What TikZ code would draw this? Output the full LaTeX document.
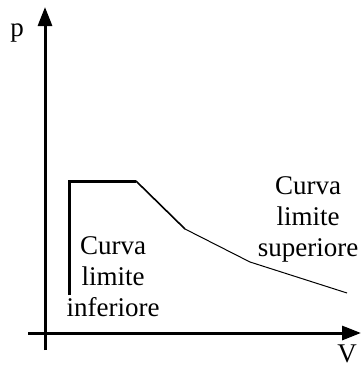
\documentclass[tikz,border=0pt]{standalone}
\usepackage{fontspec}
\setmainfont{Liberation Serif}
\usetikzlibrary{arrows.meta}
\tikzset{
  axis-line/.style={line width=3pt,-{Triangle[length=19pt,width=14pt]}},
  curve-thick/.style={line width=3pt,line join=miter},
  curve-mid/.style={line width=1.6pt},
  curve-thin/.style={line width=1pt,line join=round},
  curve-label/.style={align=center,font=\fontsize{27}{31}\selectfont,inner sep=0pt},
  axis-label/.style={font=\fontsize{27}{30}\selectfont,inner sep=0pt},
}

\begin{document}
\begin{tikzpicture}[x=1pt,y=-1pt]
  \useasboundingbox (0,0) rectangle (361,370);
  % assi
  \coordinate (v0) at (45,350);
  \coordinate (v1) at (45,7);
  \coordinate (h0) at (28,333);
  \coordinate (h1) at (361,333);
  \draw[axis-line] (v0) -- (v1);
  \draw[axis-line] (h0) -- (h1);
  \node[axis-label] (plab) at (17,33) {p};
  \node[axis-label,anchor=base] (vlab) at (347,362) {V};
  % curva
  \coordinate (c0) at (69,295);
  \coordinate (c1) at (69,181);
  \coordinate (c2) at (136,181);
  \coordinate (c3) at (185,229);
  \coordinate (c4) at (250,262);
  \coordinate (c5) at (347,293);
  \draw[curve-thick] (c0) -- (c1) -- (c2);
  \draw[curve-mid] (c2) -- (c3);
  \draw[curve-thin] (c3) -- (c4) -- (c5);
  \node[curve-label] (inf) at (113,277) {Curva\\limite\\inferiore};
  \node[curve-label] (sup) at (308,219) {Curva\\limite\\superiore};
\end{tikzpicture}
\end{document}
